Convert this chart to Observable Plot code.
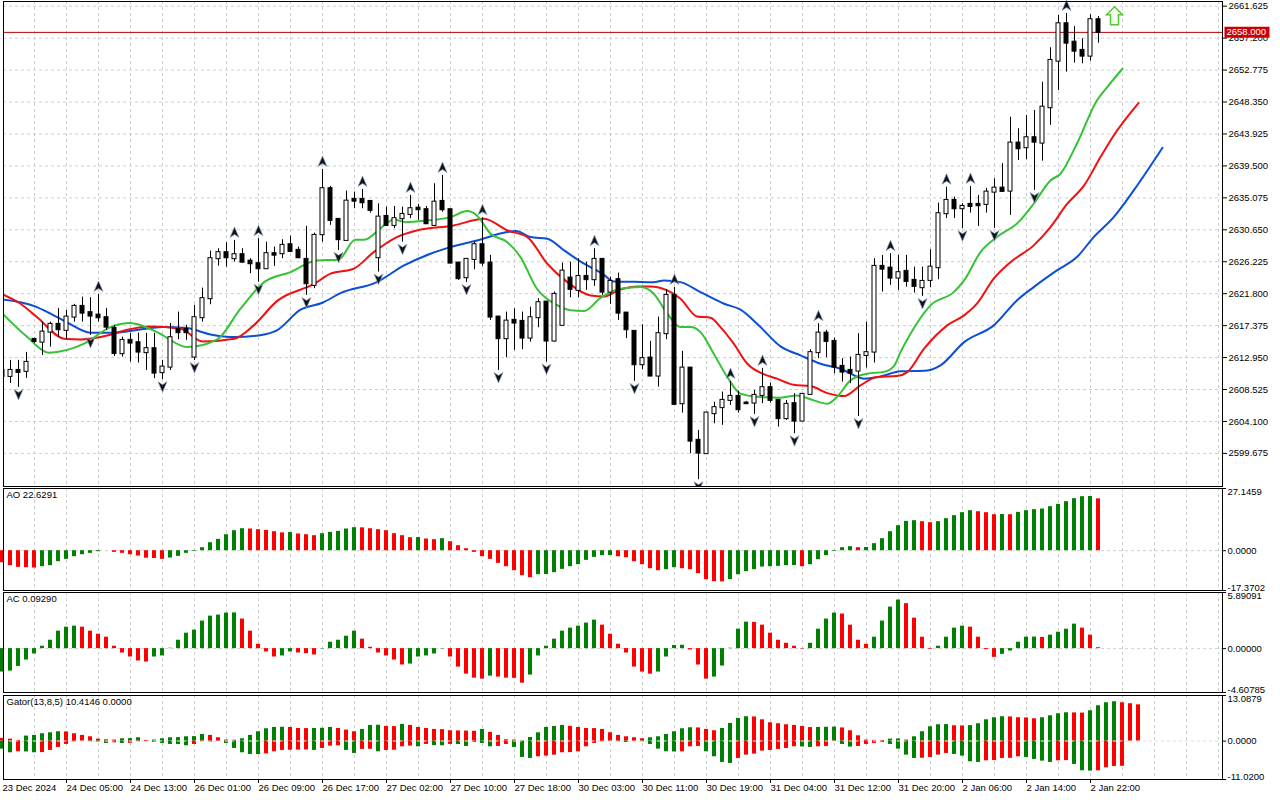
<!DOCTYPE html>
<html><head><meta charset="utf-8">
<script src="https://cdn.jsdelivr.net/npm/d3@7"></script>
<script src="https://cdn.jsdelivr.net/npm/@observablehq/plot@0.6"></script>
<style>
body{margin:0;background:#fff}
#chart{position:relative;width:1280px;height:800px;overflow:hidden;background:#fff}
#chart svg{position:absolute;left:0}
</style></head>
<body><div id="chart"></div>
<script>
// ---------- DATA ----------
const open = [2611.17,2610.34,2611.17,2611.04,2615.47,2615.09,2616.48,2617.55,2616.72,2618.56,2620.04,2619.17,2618.83,2618.47,2616.99,2613.49,2615.33,2615.01,2613.63,2614.18,2610.86,2611.63,2616.81,2616.81,2613.02,2618.47,2621.11,2626.65,2627.48,2626.65,2627.20,2626.31,2625.95,2625.26,2627.34,2627.34,2628.58,2627.80,2626.55,2622.95,2629.97,2636.34,2632.09,2629.18,2634.86,2634.86,2634.58,2626.78,2632.50,2631.26,2632.19,2632.78,2633.65,2633.43,2631.26,2634.58,2633.43,2626.04,2624.01,2626.55,2628.58,2626.04,2618.56,2615.57,2618.10,2617.96,2615.65,2618.47,2620.63,2615.24,2617.41,2623.96,2622.26,2624.19,2623.74,2626.55,2622.02,2623.74,2619.11,2616.58,2611.96,2612.88,2610.39,2616.26,2621.56,2606.56,2611.49,2601.48,2599.64,2605.18,2606.01,2607.02,2607.57,2606.65,2606.65,2607.71,2608.78,2607.02,2604.49,2606.56,2604.15,2607.85,2613.63,2616.34,2615.19,2611.73,2611.17,2611.08,2613.25,2613.71,2625.58,2625.34,2623.96,2624.89,2623.64,2622.63,2623.64,2625.40,2632.88,2634.72,2633.57,2634.17,2634.17,2634.17,2635.87,2636.42,2636.01,2642.66,2642.02,2643.40,2642.66,2647.56,2654.01,2659.19,2656.64,2655.50,2654.71,2659.75];
const high = [2611.87,2612.56,2612.56,2613.67,2615.61,2617.86,2617.86,2619.76,2619.49,2620.32,2621.33,2621.24,2621.70,2619.76,2617.41,2615.79,2616.30,2616.34,2616.30,2616.30,2612.56,2617.69,2619.25,2617.41,2620.18,2622.57,2627.70,2628.03,2628.86,2629.18,2628.03,2626.65,2629.42,2628.94,2628.25,2629.28,2629.78,2628.25,2631.12,2630.19,2639.01,2636.66,2632.09,2636.01,2635.87,2636.24,2634.58,2634.26,2633.79,2633.89,2633.79,2635.41,2634.17,2633.89,2637.03,2638.18,2633.43,2626.04,2626.55,2628.94,2632.32,2627.10,2618.56,2619.25,2619.72,2619.25,2619.94,2621.11,2620.63,2622.02,2626.03,2626.17,2626.65,2626.17,2628.03,2626.55,2624.09,2624.65,2619.11,2616.58,2617.50,2615.19,2618.56,2622.35,2622.67,2613.81,2611.49,2602.87,2605.40,2606.78,2608.17,2609.65,2608.31,2606.88,2608.40,2611.45,2609.42,2607.02,2607.02,2607.95,2607.95,2614.04,2617.64,2616.72,2615.65,2612.80,2613.02,2616.26,2617.86,2626.65,2627.10,2627.34,2627.10,2627.10,2625.48,2625.48,2627.89,2634.35,2636.56,2635.18,2634.26,2636.66,2635.41,2636.38,2637.72,2639.80,2646.24,2644.65,2646.49,2647.18,2651.10,2655.87,2660.34,2660.62,2658.82,2657.12,2660.45,2660.20];
const low = [2609.79,2609.37,2608.82,2610.07,2614.92,2613.25,2614.40,2615.79,2615.43,2617.86,2617.86,2616.02,2617.86,2616.72,2613.11,2613.02,2612.33,2612.19,2611.17,2610.03,2609.89,2611.17,2615.43,2615.33,2612.56,2617.86,2620.27,2625.62,2625.48,2626.17,2626.03,2624.57,2623.40,2625.26,2625.58,2626.65,2627.56,2626.65,2621.56,2622.49,2628.94,2631.26,2627.80,2629.18,2633.57,2633.57,2632.96,2624.79,2631.12,2630.80,2628.94,2632.19,2631.95,2631.40,2631.12,2633.10,2625.95,2623.64,2623.36,2625.12,2625.58,2618.10,2611.17,2612.93,2613.95,2614.04,2615.09,2617.09,2612.33,2615.09,2617.41,2621.24,2621.24,2622.26,2622.81,2621.56,2620.32,2618.10,2615.57,2609.65,2611.27,2610.39,2608.86,2615.43,2606.47,2605.26,2599.64,2596.04,2599.64,2603.79,2603.56,2606.33,2605.26,2606.46,2605.08,2606.56,2606.65,2603.32,2604.25,2602.41,2604.15,2607.85,2612.80,2612.93,2610.72,2609.55,2609.33,2604.80,2611.50,2612.19,2622.02,2622.95,2622.26,2622.71,2621.88,2621.42,2622.63,2623.74,2632.19,2632.19,2630.80,2632.96,2631.12,2632.96,2630.84,2635.87,2632.64,2640.26,2640.36,2636.11,2640.16,2645.11,2649.95,2652.49,2653.74,2653.65,2654.01,2656.51];
const close = [2610.34,2611.17,2610.90,2612.28,2615.19,2616.48,2617.55,2616.81,2618.56,2620.04,2619.11,2618.70,2618.47,2617.17,2613.53,2615.33,2614.96,2613.71,2614.18,2610.80,2611.63,2615.70,2616.40,2616.40,2618.47,2621.11,2626.65,2627.48,2626.78,2627.20,2626.17,2625.95,2625.26,2627.34,2627.14,2628.49,2627.66,2626.78,2623.18,2629.87,2636.34,2631.95,2629.28,2634.62,2634.62,2634.40,2633.34,2632.41,2631.26,2632.19,2632.78,2633.57,2633.43,2631.49,2634.48,2633.43,2626.04,2623.88,2626.55,2628.58,2626.04,2618.56,2615.57,2618.00,2617.73,2615.65,2618.47,2620.55,2615.24,2621.70,2624.93,2622.40,2624.19,2623.74,2626.55,2622.02,2623.50,2619.11,2616.81,2611.96,2612.80,2610.39,2616.26,2621.56,2606.47,2611.49,2601.38,2599.72,2605.26,2606.01,2607.02,2607.57,2605.73,2606.56,2607.71,2608.78,2607.02,2604.49,2606.47,2604.15,2607.85,2613.63,2616.34,2615.19,2611.63,2610.94,2610.80,2613.25,2613.63,2625.58,2625.20,2623.96,2624.71,2623.50,2622.81,2623.50,2625.48,2632.88,2634.72,2633.57,2633.89,2633.89,2633.99,2635.87,2636.42,2635.97,2642.66,2641.88,2643.40,2642.79,2647.64,2654.11,2659.19,2656.51,2655.40,2654.71,2659.75,2658.00];

const fractalUp = [12,29,32,40,45,51,55,60,74,84,91,95,102,111,118,121,133];
const fractalDown = [2,11,20,24,32,38,42,47,50,58,62,68,79,87,94,99,107,115,120,124,129];

// Alligator lines: [bar, price]
const jaw = [[0,2621.01],[4,2620.08],[6,2619.03],[8,2617.86],[11,2616.40],[14,2616.40],[17,2616.81],[20,2617.17],[23,2617.03],[26,2616.16],[29,2615.79],[32,2616.02],[34.3,2616.72],[37.25,2619.58],[40,2620.55],[42.25,2621.88],[46.8,2623.40],[50.2,2625.72],[53.5,2627.34],[56,2628.25],[59.3,2629.18],[63.1,2630.33],[64.2,2630.47],[66,2629.64],[68.1,2629.42],[70.2,2627.80],[72.7,2625.95],[75,2624.57],[76.4,2623.50],[79,2623.45],[81.4,2623.40],[82.7,2623.64],[84.75,2623.40],[87.25,2622.02],[90.2,2620.41],[92.25,2619.58],[94.75,2617.17],[97.25,2614.50],[99.75,2613.25],[102.25,2612.10],[104.75,2611.41],[107.7,2610.03],[109.3,2610.21],[112.25,2611.04],[115.6,2611.17],[117.25,2611.87],[120.2,2615.09],[123.9,2617.41],[126.8,2620.87],[128.9,2622.71],[131.8,2625.02],[134.3,2626.87],[136.4,2629.64],[138.9,2632.41],[141.4,2636.11],[145,2642.02]];
const teeth = [[0,2621.70],[2.25,2620.41],[4.3,2618.56],[7.7,2615.57],[9.75,2615.47],[13.5,2616.12],[15.6,2616.81],[18.5,2617.27],[22.25,2616.95],[25,2615.19],[29,2615.57],[31.4,2617.41],[34.3,2620.77],[39,2623.18],[41,2624.57],[43.9,2625.26],[46.4,2627.56],[49.3,2629.64],[51.8,2630.57],[56.4,2631.26],[60.2,2632.19],[63.1,2630.57],[65.6,2629.64],[68.1,2625.95],[70.6,2623.40],[73.5,2621.56],[75.2,2621.42],[77.25,2622.39],[79.5,2622.81],[81,2622.81],[83.1,2622.26],[84.75,2621.11],[86.8,2618.65],[88.5,2618.47],[89.75,2617.17],[91.4,2614.87],[93.1,2612.10],[95.2,2610.62],[96.8,2610.03],[98.9,2609.19],[101,2609.00],[103.1,2608.03],[105.2,2607.61],[107.25,2609.10],[109.3,2610.25],[111.8,2610.39],[113.1,2610.94],[115.2,2614.18],[118.1,2617.41],[120.2,2618.79],[121.8,2620.41],[123.9,2623.88],[126,2626.17],[128.9,2628.49],[131,2631.02],[133.1,2634.26],[135.2,2636.80],[137.25,2640.72],[138.9,2643.72],[142,2648.20]];
const lips = [[0,2619.03],[3.1,2615.79],[5.8,2613.63],[10.2,2614.87],[13.5,2617.17],[16,2617.73],[19.3,2616.48],[23.1,2614.40],[26.8,2615.43],[29.75,2619.72],[32.7,2623.40],[36,2624.79],[39.3,2626.41],[42,2626.51],[44.1,2629.28],[45.2,2629.28],[47.7,2631.26],[48.9,2632.09],[50.4,2631.71],[53.1,2631.95],[56,2632.41],[58.1,2633.24],[59.3,2632.64],[61,2630.11],[63.1,2628.94],[64.75,2626.87],[66.8,2622.49],[69,2620.41],[71,2619.49],[72.7,2619.39],[74.75,2621.21],[77.25,2622.49],[79.75,2622.71],[81.4,2621.80],[83.1,2619.03],[84.75,2617.17],[86,2617.17],[87.25,2616.48],[88.9,2613.49],[90.6,2610.25],[92.25,2607.95],[94.75,2607.48],[97.25,2607.40],[99.3,2607.71],[101.4,2607.02],[103.1,2606.56],[104.3,2607.48],[106,2609.79],[108.1,2610.72],[110.2,2610.97],[111.4,2611.73],[112.25,2613.71],[113.5,2616.26],[116,2620.18],[118.9,2622.02],[120.2,2623.64],[122.25,2627.56],[124.3,2629.64],[127,2631.71],[128.9,2634.26],[131,2637.49],[132.25,2638.42],[134.3,2642.57],[136.8,2648.57],[138.1,2650.43],[140,2652.96]];

const bidPrice = 2658.000;
const signal = {bar: 139, price: 2660.3};

const aoPrior = -4.9;
const ao = [-5.24,-6.55,-7.28,-7.42,-7.57,-6.98,-6.55,-4.80,-3.78,-2.62,-1.75,-1.16,-0.44,0.02,-0.73,-1.16,-1.75,-2.33,-3.27,-3.42,-3.78,-3.20,-2.47,-1.16,-0.29,1.31,3.49,4.95,6.98,8.73,9.60,9.46,9.17,8.88,8.29,7.78,7.93,7.28,6.98,6.55,7.42,8.00,8.44,9.46,10.04,9.97,9.60,9.17,8.73,7.42,6.55,5.67,5.75,5.09,4.80,5.24,3.93,2.18,0.87,-0.73,-2.62,-3.78,-5.53,-6.98,-8.73,-10.91,-11.79,-10.48,-10.40,-9.60,-8.15,-6.98,-6.11,-4.22,-2.91,-2.18,-2.11,-2.62,-3.06,-4.80,-6.11,-7.86,-8.73,-8.29,-7.42,-7.86,-8.29,-10.04,-12.66,-13.53,-13.60,-12.66,-10.48,-9.17,-8.29,-7.13,-6.98,-6.84,-6.55,-6.47,-6.98,-6.11,-3.93,-2.18,-0.29,1.31,1.75,1.31,1.38,3.06,5.24,8.29,10.91,12.80,13.10,12.66,12.22,12.66,13.97,15.28,16.59,17.46,17.02,16.59,15.71,15.79,15.71,16.73,17.46,17.90,18.19,19.21,20.22,21.39,22.70,23.57,23.64,22.63];

const acPrior = -2.6;
const ac = [-2.46,-2.36,-1.87,-1.20,-0.56,0.25,0.88,1.83,2.25,2.36,2.25,1.83,1.51,1.20,0.25,-0.46,-0.88,-1.30,-1.41,-0.88,-0.77,0.04,0.88,1.62,1.94,2.89,3.41,3.52,3.73,3.75,3.10,1.83,0.46,-0.35,-0.88,-0.77,-0.35,-0.46,-0.53,-0.67,-0.04,0.67,0.88,1.30,1.83,0.99,0.14,-0.46,-0.77,-1.20,-1.72,-1.62,-0.88,-0.77,-0.56,-0.04,-0.88,-1.94,-2.68,-3.10,-3.20,-2.89,-2.99,-3.10,-3.12,-3.63,-2.78,-0.77,0.25,0.99,1.83,2.15,2.36,2.68,2.99,2.46,1.51,0.46,-0.46,-1.94,-2.46,-2.68,-2.46,-0.88,0.32,0.35,-0.14,-1.72,-3.20,-2.99,-1.83,0.04,2.04,2.78,2.76,2.46,1.62,0.88,0.56,0.25,-0.05,0.56,2.04,3.10,3.73,3.63,2.46,0.88,0.46,1.20,2.89,4.36,5.10,4.72,3.20,1.20,-0.07,0.25,1.20,2.15,2.36,2.25,1.20,-0.11,-0.92,-0.60,-0.25,0.67,1.20,1.21,1.18,1.41,1.72,2.04,2.57,2.15,1.41,0.0929];

const gatorUpPrior = 0.9;
const gatorUp = [0.77,0.57,0.19,1.44,1.63,2.11,2.39,2.68,2.63,2.11,1.63,1.24,0.57,0.38,0.29,0.67,0.72,0.96,0.19,0.29,0.67,0.96,1.00,1.24,1.29,1.91,1.63,0.96,0.29,0.24,0.67,1.63,2.68,3.54,3.92,3.97,3.92,3.64,3.59,3.64,3.68,3.92,3.64,3.16,2.68,3.35,4.50,4.55,4.21,4.16,4.79,4.50,3.92,3.64,3.35,3.30,2.97,2.92,2.87,2.82,3.35,2.49,1.63,0.38,0.29,0.05,1.05,2.39,3.92,4.21,4.50,4.21,3.92,3.64,3.59,3.35,2.39,1.63,1.24,0.96,0.67,0.96,1.24,1.91,2.68,3.54,3.83,3.78,3.35,2.97,3.64,5.07,6.51,6.99,6.94,6.12,5.26,4.98,4.69,4.50,4.21,3.88,3.92,3.97,4.02,3.78,2.97,1.53,0.29,0.19,0.14,0.57,0.62,0.29,1.24,2.68,4.12,4.69,4.74,4.40,4.35,4.45,4.98,6.12,6.70,6.99,6.94,6.70,6.65,6.41,6.70,7.27,7.85,8.13,8.09,8.04,8.71,10.14,11.01,11.29,11.01,10.72,10.41];
const gatorDownPrior = -2.0;
const gatorDown = [-2.30,-3.35,-3.06,-3.11,-3.35,-3.30,-2.68,-1.82,-0.96,-0.19,-0.05,-0.19,-0.24,-0.67,-0.48,-0.67,-0.62,-0.19,-0.14,-0.38,-0.67,-0.96,-1.00,-1.34,-0.96,-0.19,-0.24,-0.03,-0.67,-2.11,-3.35,-3.83,-3.88,-3.64,-3.06,-2.68,-2.63,-2.58,-2.54,-2.68,-2.11,-1.44,-1.34,-2.68,-3.54,-2.39,-2.34,-3.06,-2.68,-2.63,-1.63,-1.44,-1.63,-0.96,-1.29,-1.34,-0.96,-1.00,-1.53,-0.38,-0.67,-1.63,-1.53,-0.96,-1.82,-4.69,-4.98,-4.50,-4.31,-4.02,-3.35,-3.30,-3.06,-1.63,-0.67,-0.19,-0.10,-0.19,-0.38,-0.10,-0.19,-0.96,-2.30,-3.06,-3.11,-3.06,-1.63,-1.53,-3.06,-4.50,-6.12,-6.41,-4.98,-4.02,-3.73,-2.87,-2.68,-2.39,-2.11,-1.63,-1.67,-1.82,-1.63,-1.53,-0.05,-0.96,-1.72,-1.53,-0.96,-0.67,-0.38,-0.96,-2.30,-4.02,-4.98,-4.93,-4.69,-4.02,-3.54,-3.83,-4.31,-5.93,-6.12,-5.65,-5.60,-4.98,-4.95,-4.50,-4.69,-5.26,-5.74,-6.12,-5.65,-5.60,-6.70,-8.52,-8.61,-8.52,-7.66,-7.27,-7.23];

const priceTicks = [2599.675,2604.100,2608.525,2612.950,2617.375,2621.800,2626.225,2630.650,2635.075,2639.500,2643.925,2648.350,2652.775,2657.200,2661.625];
const aoRange = [-17.3702, 27.1459];
const acRange = [-4.60785, 5.89091];
const gatorRange = [-11.0200, 13.0879];
const aoTitle = "AO 22.6291";
const acTitle = "AC 0.09290";
const gatorTitle = "Gator(13,8,5) 10.4146 0.0000";
const dateLabels = ["23 Dec 2024","24 Dec 05:00","24 Dec 13:00","26 Dec 01:00","26 Dec 09:00","26 Dec 17:00","27 Dec 02:00","27 Dec 10:00","27 Dec 18:00","30 Dec 03:00","30 Dec 11:00","30 Dec 19:00","31 Dec 04:00","31 Dec 12:00","31 Dec 20:00","2 Jan 06:00","2 Jan 14:00","2 Jan 22:00"];
const dateBars = dateLabels.map((d, k) => k * 8);

// ---------- HELPERS ----------
const GREEN = "#008000", RED = "#ff0000";
const GRID = "#cfcfcf";
const gridBars = d3.range(4, 153, 4);
const xScale = {domain: [0.125, 152.5], axis: null};
const baseStyle = {background: "white", fontFamily: "'Liberation Sans', Arial, sans-serif", fontSize: "9.5px", color: "black"};
const common = {width: 1280, marginLeft: 3, marginRight: 58, style: baseStyle};
const gridXMark = () => Plot.gridX({ticks: gridBars, stroke: GRID, strokeOpacity: 1, strokeDasharray: "3,3"});

function colored(vals, prior, absMode) {
  return vals.map((v, i) => {
    const p = i ? vals[i - 1] : prior;
    const up = absMode ? Math.abs(v) > Math.abs(p) : v > p;
    return {i, v, up};
  });
}
function bars(data, color) {
  return Plot.rect(data, {x1: d => d.i - 0.25, x2: d => d.i + 0.25, y1: 0, y2: "v", fill: color});
}
function subAxis(range, fmt) {
  return [
    Plot.axisY({anchor: "right", ticks: [range[0], 0, range[1]], tickSize: 3, tickFormat: () => "", label: null}),
    Plot.text([range[1]], {y: d => d, frameAnchor: "right", dx: 5, textAnchor: "start", lineAnchor: "top", text: fmt}),
    Plot.text([0], {y: d => d, frameAnchor: "right", dx: 5, textAnchor: "start", lineAnchor: "middle", text: fmt}),
    Plot.text([range[0]], {y: d => d, frameAnchor: "right", dx: 5, textAnchor: "start", lineAnchor: "bottom", text: fmt})
  ];
}
const titleMark = (t) => Plot.text([t], {frameAnchor: "top-left", dx: 3, dy: 3, textAnchor: "start", lineAnchor: "top", text: d => d});

// custom symbols
const upArrow = {draw(ctx) { ctx.moveTo(0, -5.5); ctx.lineTo(4.5, 5); ctx.lineTo(0, 2); ctx.lineTo(-4.5, 5); ctx.closePath(); }};
const downArrow = {draw(ctx) { ctx.moveTo(0, 5.5); ctx.lineTo(4.5, -5); ctx.lineTo(0, -2); ctx.lineTo(-4.5, -5); ctx.closePath(); }};
const bigArrow = {draw(ctx) { ctx.moveTo(0, -9); ctx.lineTo(8, -1); ctx.lineTo(4, -1); ctx.lineTo(4, 9); ctx.lineTo(-4, 9); ctx.lineTo(-4, -1); ctx.lineTo(-8, -1); ctx.closePath(); }};
const priceBox = {draw(ctx) { ctx.rect(0, -5.5, 45, 11); }};

// ---------- MAIN ----------
const candles = open.map((o, i) => ({i, o, h: high[i], l: low[i], c: close[i]}));
const bull = candles.filter(d => d.c >= d.o), bear = candles.filter(d => d.c < d.o);
const bodyOpts = {x1: d => d.i - 0.25, x2: d => d.i + 0.25, y1: d => Math.min(d.o, d.c), y2: d => Math.max(d.o, d.c), stroke: "black", strokeWidth: 1, insetTop: -0.5, insetBottom: -0.5, clip: true};
const pt = a => a.map(([b, p]) => ({b, p}));

const main = Plot.plot({
  ...common, height: 487, marginTop: 1, marginBottom: 1,
  x: xScale,
  y: {domain: [2595.09, 2662.276]},
  marks: [
    gridXMark(),
    Plot.gridY({ticks: priceTicks, stroke: GRID, strokeOpacity: 1, strokeDasharray: "3,3"}),
    Plot.line(pt(jaw), {x: "b", y: "p", stroke: "#0a4fd6", strokeWidth: 2, curve: "monotone-x", clip: true}),
    Plot.line(pt(teeth), {x: "b", y: "p", stroke: "#f01010", strokeWidth: 2, curve: "monotone-x", clip: true}),
    Plot.line(pt(lips), {x: "b", y: "p", stroke: "#36c236", strokeWidth: 2, curve: "monotone-x", clip: true}),
    Plot.ruleY([bidPrice], {stroke: "#b40000", strokeWidth: 1}),
    Plot.ruleX(candles, {x: "i", y1: "l", y2: "h", stroke: "black", strokeWidth: 1, clip: true}),
    Plot.rect(bull, {...bodyOpts, fill: "white"}),
    Plot.rect(bear, {...bodyOpts, fill: "black"}),
    Plot.dot(fractalUp, {x: d => d, y: d => high[d], dy: -8, symbol: upArrow, fill: "#111", stroke: "#8aa0c8", strokeWidth: 0.7}),
    Plot.dot(fractalDown, {x: d => d, y: d => low[d], dy: 7, symbol: downArrow, fill: "#111", stroke: "#8aa0c8", strokeWidth: 0.7}),
    Plot.dot([signal], {x: "bar", y: "price", symbol: bigArrow, fill: "#f2fdec", stroke: "#5cc43c", strokeWidth: 1.5}),
    Plot.axisY({anchor: "right", ticks: priceTicks, tickSize: 4, tickPadding: 2, tickFormat: d => d.toFixed(3), label: null}),
    Plot.dot([bidPrice], {y: d => d, frameAnchor: "right", dx: 2, symbol: priceBox, fill: "#cc0000", stroke: "none"}),
    Plot.text([bidPrice], {y: d => d, frameAnchor: "right", dx: 4, textAnchor: "start", fill: "white", text: d => d.toFixed(3)}),
    Plot.frame({stroke: "black"})
  ]
});

// ---------- AO ----------
const aoData = colored(ao, aoPrior, false);
const aoPlot = Plot.plot({
  ...common, height: 104, marginTop: 1, marginBottom: 1,
  x: xScale, y: {domain: aoRange},
  marks: [
    gridXMark(),
    Plot.ruleY([0], {stroke: GRID, strokeDasharray: "3,3"}),
    bars(aoData.filter(d => d.up), GREEN),
    bars(aoData.filter(d => !d.up), RED),
    ...subAxis(aoRange, d => d.toFixed(4)),
    titleMark(aoTitle),
    Plot.frame({stroke: "black"})
  ]
});

// ---------- AC ----------
const acData = colored(ac, acPrior, false);
const acPlot = Plot.plot({
  ...common, height: 103, marginTop: 1, marginBottom: 2,
  x: xScale, y: {domain: acRange},
  marks: [
    gridXMark(),
    Plot.ruleY([0], {stroke: GRID, strokeDasharray: "3,3"}),
    bars(acData.filter(d => d.up), GREEN),
    bars(acData.filter(d => !d.up), RED),
    ...subAxis(acRange, d => d.toFixed(5)),
    titleMark(acTitle),
    Plot.frame({stroke: "black"})
  ]
});

// ---------- GATOR ----------
const gU = colored(gatorUp, gatorUpPrior, true);
const gD = colored(gatorDown, gatorDownPrior, true);
const gatorPlot = Plot.plot({
  ...common, height: 106, marginTop: 1, marginBottom: 21,
  x: xScale, y: {domain: gatorRange},
  marks: [
    gridXMark(),
    bars(gU.filter(d => d.up), GREEN),
    bars(gU.filter(d => !d.up), RED),
    bars(gD.filter(d => d.up), GREEN),
    bars(gD.filter(d => !d.up), RED),
    Plot.ruleY([0], {stroke: "#dcdcdc", strokeDasharray: "3,3"}),
    ...subAxis(gatorRange, d => d.toFixed(4)),
    titleMark(gatorTitle),
    Plot.axisX({anchor: "bottom", ticks: dateBars.filter(d => d > 0), tickSize: 4, tickFormat: () => "", label: null}),
    Plot.text(dateLabels, {x: (d, k) => dateBars[k], frameAnchor: "bottom", dy: 5, lineAnchor: "top", textAnchor: "start", text: d => d}),
    Plot.frame({stroke: "black"})
  ]
});

const chart = document.getElementById("chart");
[[main, 0], [aoPlot, 487], [acPlot, 591], [gatorPlot, 694]].forEach(([el, top]) => {
  el.style.top = top + "px";
  chart.appendChild(el);
});
</script></body></html>
